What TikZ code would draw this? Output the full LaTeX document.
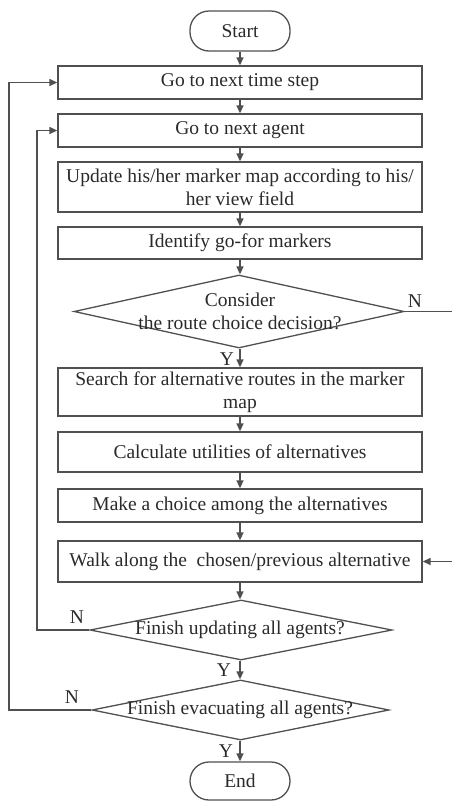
\documentclass[tikz,border=0pt]{standalone}
\usepackage{fontspec}
\setmainfont{Liberation Serif}
\usetikzlibrary{arrows.meta,shapes.geometric}
\definecolor{ln}{HTML}{505050}
\definecolor{tx}{HTML}{2A2A2A}
\tikzset{
  base/.style={draw=ln, line width=1.3pt, text=tx, font=\fontsize{19.5}{24}\selectfont, align=center, inner sep=0pt},
  procbox/.style={base, rectangle, minimum width=364pt},
  termbox/.style={base, rectangle, rounded corners=19pt, minimum width=100pt},
  decbox/.style={draw=ln, line width=1.3pt, diamond, inner sep=0pt},
  dtext/.style={text=tx, font=\fontsize{19.5}{24}\selectfont, align=center, inner sep=0pt},
  lbl/.style={text=tx, font=\fontsize{19.5}{24}\selectfont, inner sep=0pt},
  arr/.style={draw=ln, line width=1.3pt, -{Triangle[length=8pt,width=7pt]}},
  ln/.style={draw=ln, line width=1.3pt}
}
\begin{document}
\begin{tikzpicture}[x=1pt,y=-1pt]
\useasboundingbox (0,0) rectangle (451,801);
\node[termbox, minimum height=40pt] (start) at (240,31) {Start};
\node[procbox, minimum height=33pt] (b1) at (240,82.5) {Go to next time step};
\node[procbox, minimum height=33pt] (b2) at (240,130.5) {Go to next agent};
\node[procbox, minimum height=50pt] (b3) at (240,187) {Update his/her marker map according to his/\\[-1pt]her view field};
\node[procbox, minimum height=32pt] (b4) at (240,243) {Identify go-for markers};
\node[decbox, minimum width=330pt, minimum height=73pt] (d1) at (239,311.5) {};
\node[dtext] (d1t) at (240,311) {Consider\\[-1pt]the route choice decision?};
\node[procbox, minimum height=48pt] (b5) at (240,392) {Search for alternative routes in the marker\\[-1pt]map};
\node[procbox, minimum height=40pt] (b6) at (240,452) {Calculate utilities of alternatives};
\node[procbox, minimum height=33pt] (b7) at (240,505.5) {Make a choice among the alternatives};
\node[procbox, minimum height=41pt] (b8) at (240,561.5) {Walk along the \ chosen/previous alternative};
\node[decbox, minimum width=302pt, minimum height=60pt] (d2) at (241,630) {};
\node[dtext] (d2t) at (240,630) {Finish updating all agents?};
\node[decbox, minimum width=297pt, minimum height=60pt] (d3) at (240.5,710) {};
\node[dtext] (d3t) at (240,710) {Finish evacuating all agents?};
\node[termbox, minimum height=38pt] (end) at (240,781) {End};

\draw[arr] (start) -- (b1);
\draw[arr] (b1) -- (b2);
\draw[arr] (b2) -- (b3);
\draw[arr] (b3) -- (b4);
\draw[arr] (b4.south) -- (b4.south |- d1.north);
\draw[arr] (b4.south |- d1.south) -- (b5.north);
\draw[arr] (b5) -- (b6);
\draw[arr] (b6) -- (b7);
\draw[arr] (b7) -- (b8);
\draw[arr] (b8.south) -- (b8.south |- d2.north);
\draw[arr] (b8.south |- d2.south) -- (b8.south |- d3.north);
\draw[arr] (b8.south |- d3.south) -- (end.north);

\coordinate (rx) at (453,311.5);
\draw[arr] (d1.east) -- (rx) |- (b8.east);
\coordinate (lx1) at (37,630);
\draw[arr] (d2.west) -- (lx1) |- (b2.west);
\coordinate (lx2) at (9,710);
\draw[arr] (d3.west) -- (lx2) |- (b1.west);

\node[lbl] (n1) at (415,301) {N};
\node[lbl] (y1) at (227,359) {Y};
\node[lbl] (n2) at (77,617) {N};
\node[lbl] (y2) at (224,670) {Y};
\node[lbl] (n3) at (72,697) {N};
\node[lbl] (y3) at (226,751) {Y};
\end{tikzpicture}
\end{document}
